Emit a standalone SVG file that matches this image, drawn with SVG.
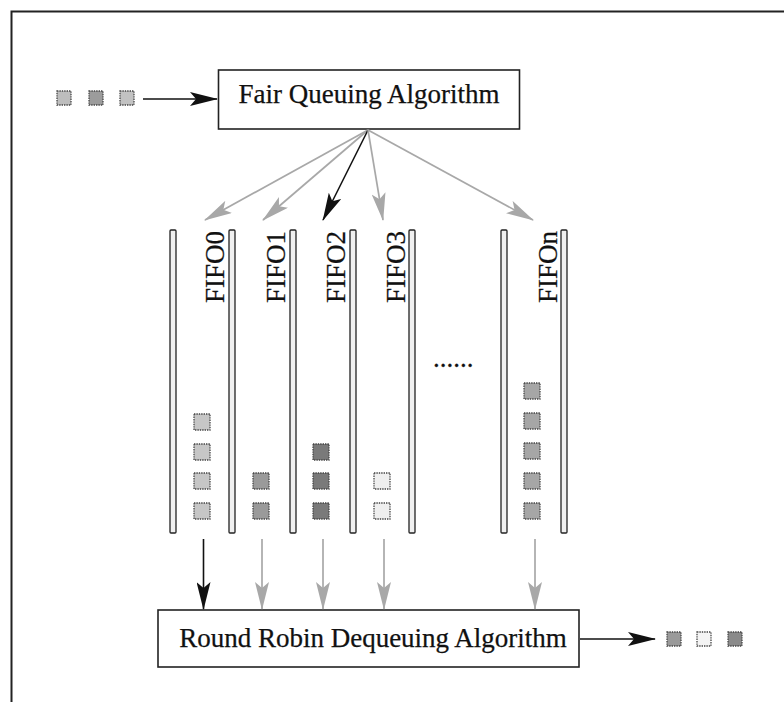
<svg xmlns="http://www.w3.org/2000/svg" width="784" height="702" viewBox="0 0 784 702">
  <style>
    .lbl { font-family: "Liberation Serif", "Times New Roman", serif; font-size: 27px; fill: #111; stroke: #111; stroke-width: 0.25; }
    .box { fill: #fff; stroke: #222; stroke-width: 1.6; }
    .rail { fill: #f0f0f0; stroke: #222; stroke-width: 1.3; }
    .pkt { stroke: #444; stroke-width: 1.3; stroke-dasharray: 1.4 1; }
    .blk { stroke: #111; stroke-width: 1.6; fill: none; }
    .gry { stroke: #a8a8a8; stroke-width: 1.7; fill: none; }
  </style>
  <defs>
    <marker id="headBlack" viewBox="0 0 28 14" refX="27" refY="7" markerWidth="28" markerHeight="14" markerUnits="userSpaceOnUse" orient="auto">
      <path d="M0,0 L28,7 L0,14 L6,7 z" fill="#111"/>
    </marker>
    <marker id="headGray" viewBox="0 0 28 14" refX="27" refY="7" markerWidth="28" markerHeight="14" markerUnits="userSpaceOnUse" orient="auto">
      <path d="M0,0 L28,7 L0,14 L6,7 z" fill="#a8a8a8"/>
    </marker>
  </defs>

  <rect width="784" height="702" fill="#fff"/>

  <!-- outer frame -->
  <g id="frame" fill="none" stroke="#222" stroke-width="2">
    <path d="M11.5,702 V11.5 H784"/>
  </g>

  <!-- incoming packets -->
  <g id="input-packets">
    <rect class="pkt" x="57" y="91" width="14" height="14" fill="#bdbdbd"/>
    <rect class="pkt" x="89" y="91" width="14" height="14" fill="#9c9c9c"/>
    <rect class="pkt" x="120" y="91" width="14" height="14" fill="#c2c2c2"/>
  </g>

  <!-- fair queuing scheduler -->
  <g id="fair-queuing">
    <rect class="box" x="218.5" y="70" width="301" height="59"/>
    <text class="lbl" x="369" y="103" text-anchor="middle">Fair Queuing Algorithm</text>
  </g>

  <!-- FIFO queues -->
  <g id="fifo-rails">
    <rect class="rail" x="170" y="230" width="6" height="303" rx="1"/>
    <rect class="rail" x="229" y="230" width="6" height="303" rx="1"/>
    <rect class="rail" x="290" y="230" width="6" height="303" rx="1"/>
    <rect class="rail" x="350" y="230" width="6" height="303" rx="1"/>
    <rect class="rail" x="409" y="230" width="6" height="303" rx="1"/>
    <rect class="rail" x="501" y="230" width="6" height="303" rx="1"/>
    <rect class="rail" x="561" y="230" width="6" height="303" rx="1"/>
  </g>

  <g id="fifo0">
    <text class="lbl" transform="translate(224,303) rotate(-90)">FIFO0</text>
    <rect class="pkt" x="194" y="414" width="16" height="16" fill="#c6c6c6"/>
    <rect class="pkt" x="194" y="444" width="16" height="16" fill="#c6c6c6"/>
    <rect class="pkt" x="194" y="473" width="16" height="16" fill="#c6c6c6"/>
    <rect class="pkt" x="194" y="503" width="16" height="16" fill="#c6c6c6"/>
  </g>

  <g id="fifo1">
    <text class="lbl" transform="translate(285,303) rotate(-90)">FIFO1</text>
    <rect class="pkt" x="253" y="473" width="16" height="16" fill="#9a9a9a"/>
    <rect class="pkt" x="253" y="503" width="16" height="16" fill="#9a9a9a"/>
  </g>

  <g id="fifo2">
    <text class="lbl" transform="translate(345,303) rotate(-90)">FIFO2</text>
    <rect class="pkt" x="313" y="444" width="16" height="16" fill="#7a7a7a"/>
    <rect class="pkt" x="313" y="473" width="16" height="16" fill="#7a7a7a"/>
    <rect class="pkt" x="313" y="503" width="16" height="16" fill="#7a7a7a"/>
  </g>

  <g id="fifo3">
    <text class="lbl" transform="translate(405,303) rotate(-90)">FIFO3</text>
    <rect class="pkt" x="374" y="473" width="16" height="16" fill="#efefef"/>
    <rect class="pkt" x="374" y="503" width="16" height="16" fill="#efefef"/>
  </g>

  <g id="ellipsis">
    <text class="lbl" x="433" y="367">......</text>
  </g>

  <g id="fifon">
    <text class="lbl" transform="translate(557,303) rotate(-90)">FIFOn</text>
    <rect class="pkt" x="524" y="383" width="16" height="16" fill="#a6a6a6"/>
    <rect class="pkt" x="524" y="413" width="16" height="16" fill="#a6a6a6"/>
    <rect class="pkt" x="524" y="443" width="16" height="16" fill="#a6a6a6"/>
    <rect class="pkt" x="524" y="473" width="16" height="16" fill="#a6a6a6"/>
    <rect class="pkt" x="524" y="503" width="16" height="16" fill="#a6a6a6"/>
  </g>

  <!-- round robin dequeuer -->
  <g id="round-robin">
    <rect class="box" x="158" y="610" width="421" height="57"/>
    <text class="lbl" x="373" y="647" text-anchor="middle">Round Robin Dequeuing Algorithm</text>
  </g>

  <!-- outgoing packets -->
  <g id="output-packets">
    <rect class="pkt" x="667" y="632" width="14" height="14" fill="#9a9a9a"/>
    <rect class="pkt" x="697" y="632" width="14" height="14" fill="#f4f4f4"/>
    <rect class="pkt" x="728" y="632" width="14" height="14" fill="#8a8a8a"/>
  </g>

  <!-- connectors -->
  <g id="connectors">
    <line class="blk" x1="143" y1="99" x2="217" y2="99" marker-end="url(#headBlack)"/>
    <line class="gry" x1="368" y1="130" x2="205" y2="220" marker-end="url(#headGray)"/>
    <line class="gry" x1="368" y1="130" x2="263" y2="220" marker-end="url(#headGray)"/>
    <line class="blk" x1="368" y1="130" x2="323" y2="220" marker-end="url(#headBlack)"/>
    <line class="gry" x1="368" y1="130" x2="383" y2="220" marker-end="url(#headGray)"/>
    <line class="gry" x1="368" y1="130" x2="533" y2="220" marker-end="url(#headGray)"/>
    <line class="blk" x1="203.5" y1="539" x2="203.5" y2="609" marker-end="url(#headBlack)"/>
    <line class="gry" x1="262" y1="539" x2="262" y2="609" marker-end="url(#headGray)"/>
    <line class="gry" x1="323" y1="539" x2="323" y2="609" marker-end="url(#headGray)"/>
    <line class="gry" x1="384" y1="539" x2="384" y2="609" marker-end="url(#headGray)"/>
    <line class="gry" x1="535" y1="539" x2="535" y2="609" marker-end="url(#headGray)"/>
    <line class="blk" x1="580" y1="639" x2="655" y2="639" marker-end="url(#headBlack)"/>
  </g>
</svg>
